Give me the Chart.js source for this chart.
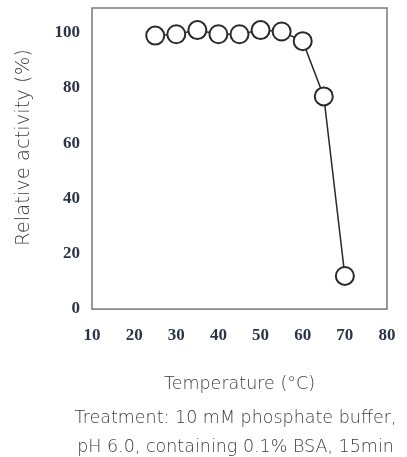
<!DOCTYPE html>
<html><head><meta charset="utf-8">
<script src="https://cdn.jsdelivr.net/npm/chart.js@4"></script>
<style>html,body{margin:0;padding:0;background:#fff}#wrap{width:407px;height:457px}</style>
</head><body><div id="wrap"><canvas id="c" width="407" height="457"></canvas></div>
<script>
const temperatures = [25, 30, 35, 40, 45, 50, 55, 60, 65, 70];
const activity = [99, 99.5, 101, 99.5, 99.5, 101, 100.5, 97, 77, 12];
const xTicks = [10, 20, 30, 40, 50, 60, 70, 80];
const yTicks = [0, 20, 40, 60, 80, 100];
const xTitle = 'Temperature (°C)';
const yTitle = 'Relative activity (%)';
const note = ['Treatment: 10 mM phosphate buffer,', 'pH 6.0, containing 0.1% BSA, 15min'];

const sansFont = "'DejaVu Sans', sans-serif";
const serifFont = "'Liberation Serif', serif";
const textColor = '#3c3c3c';

const boxPlugin = {
  id: 'box',
  afterDatasetsDraw(chart) {
    const a = chart.chartArea, ctx = chart.ctx;
    ctx.save();
    ctx.strokeStyle = '#777';
    ctx.lineWidth = 1.5;
    ctx.strokeRect(a.left, a.top, a.right - a.left, a.bottom - a.top);
    ctx.restore();
  },
  afterDraw(chart) {
    const a = chart.chartArea, ctx = chart.ctx;
    ctx.save();
    ctx.fillStyle = textColor;
    ctx.textAlign = 'center';
    ctx.textBaseline = 'middle';
    ctx.font = "200 17.5px " + sansFont;
    const cx = (a.left + a.right) / 2 - 4;
    note.forEach((line, i) => ctx.fillText(line, cx, chart.height - 39 + i * 29));
    ctx.translate(24, (a.top + a.bottom) / 2 - 11);
    ctx.rotate(-Math.PI / 2);
    ctx.font = "200 19.5px " + sansFont;
    ctx.fillText(yTitle, 0, 0);
    ctx.restore();
  }
};

new Chart(document.getElementById('c'), {
  type: 'scatter',
  data: {
    datasets: [{
      data: temperatures.map((t, i) => ({x: t, y: activity[i]})),
      showLine: true,
      borderColor: '#2a2a2a',
      borderWidth: 1.5,
      pointRadius: 9,
      pointHoverRadius: 9,
      pointBackgroundColor: '#fff',
      pointBorderColor: '#2a2a2a',
      pointBorderWidth: 2
    }]
  },
  options: {
    responsive: false,
    animation: false,
    layout: {autoPadding: false, padding: {top: 8, right: 20, left: 11, bottom: 51}},
    plugins: {
      legend: {display: false},
      tooltip: {enabled: false}
    },
    scales: {
      x: {
        type: 'linear', min: 10, max: 80,
        afterBuildTicks: s => { s.ticks = xTicks.map(v => ({value: v})); },
        afterFit: s => { s.paddingLeft = 0; s.paddingRight = 0; },
        grid: {display: false, drawTicks: false},
        border: {display: false},
        ticks: {color: '#2d3445', padding: 16, maxRotation: 0, font: {family: serifFont, size: 17, weight: 'bold'}},
        title: {display: true, text: xTitle, color: textColor, font: {family: sansFont, size: 17.5, weight: 200}, padding: {top: 12.5, bottom: 11}}
      },
      y: {
        type: 'linear', min: 0, max: 109,
        afterBuildTicks: s => { s.ticks = yTicks.map(v => ({value: v})); },
        afterFit: s => { s.width = 81; s.paddingTop = 0; s.paddingBottom = 0; },
        grid: {display: false, drawTicks: false},
        border: {display: false},
        ticks: {color: '#2d3445', padding: 12, font: {family: serifFont, size: 17, weight: 'bold', lineHeight: 0.9}},
        title: {display: false}
      }
    }
  },
  plugins: [boxPlugin]
});
</script></body></html>
